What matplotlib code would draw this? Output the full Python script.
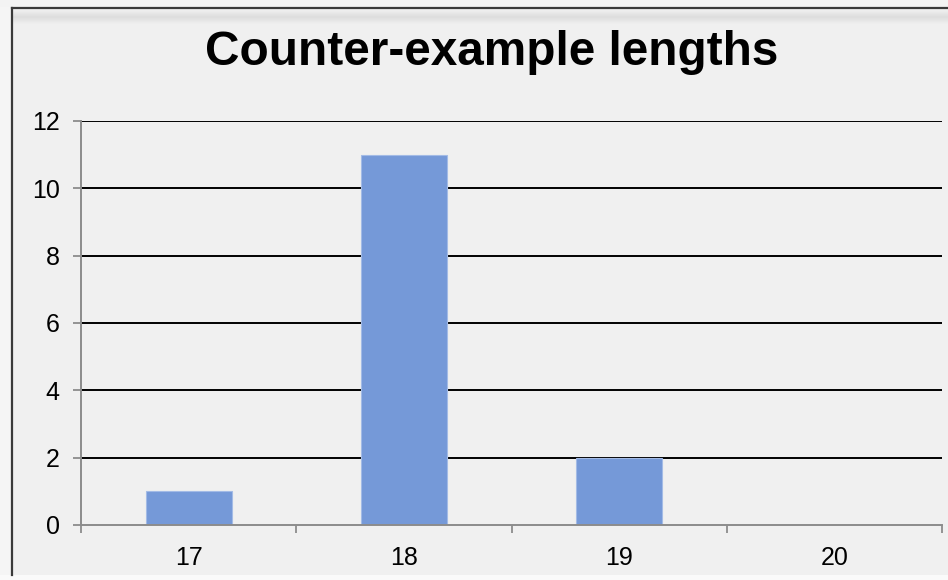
import matplotlib
matplotlib.use("Agg")
import matplotlib.pyplot as plt
from matplotlib.patches import Rectangle
from matplotlib.lines import Line2D
import numpy as np

plt.rcParams['font.family'] = ['Liberation Sans', 'DejaVu Sans']

# Counts of counter-examples by length
lengths = ["17", "18", "19", "20"]
counts = [1, 11, 2, 0]
y_ticks = [0, 2, 4, 6, 8, 10, 12]
title = "Counter-example lengths"

W, H = 948, 580
BG = "#F0F0F0"
fig = plt.figure(figsize=(W / 100, H / 100), dpi=100, facecolor=BG)

def fx(px):
    return px / W

def fy(py):
    return 1 - py / H

# area outside the chart frame
fig.patches.append(Rectangle((0, 0), 1, fy(574.5), transform=fig.transFigure,
                             facecolor="#FAFAFA", edgecolor="none", zorder=0))
fig.patches.append(Rectangle((0, fy(574.5)), fx(11), 1, transform=fig.transFigure,
                             facecolor="#F5F5F5", edgecolor="none", zorder=0))
fig.patches.append(Rectangle((0, fy(7)), 1, 1, transform=fig.transFigure,
                             facecolor="#F3F3F3", edgecolor="none", zorder=0))

# soft shadow under the top edge of the frame
grad = np.linspace(0, 1, 64).reshape(-1, 1)
shadow_ax = fig.add_axes([fx(13), fy(24), 1 - fx(13), fy(10) - fy(24)])
shadow_ax.imshow(grad, aspect="auto", cmap=matplotlib.colors.LinearSegmentedColormap.from_list(
    "sh", ["#F0F0F0", "#DDDDDD", "#F0F0F0"]), extent=(0, 1, 0, 1))
shadow_ax.set_axis_off()

# chart frame (left and top edges)
fig.lines.append(Line2D([fx(12), fx(12)], [fy(574.5), fy(8)], transform=fig.transFigure,
                        color="#3A3A3A", lw=1.6, solid_capstyle="projecting"))
fig.lines.append(Line2D([fx(12), 1], [fy(8), fy(8)], transform=fig.transFigure,
                        color="#3A3A3A", lw=1.6, solid_capstyle="projecting"))

# plot area
left, right, top, bottom = 81, 942, 121, 525
ax = fig.add_axes([fx(left), fy(bottom), fx(right - left), (bottom - top) / H])
ax.set_facecolor(BG)

x = np.arange(len(lengths))
ax.bar(x, counts, width=0.4, color="#7599D8", edgecolor="#A3BBE6", linewidth=0.8, zorder=3)

ax.set_xlim(-0.5, len(lengths) - 0.5)
ax.set_ylim(0, 12)
ax.set_yticks(y_ticks)
ax.set_yticklabels([str(v) for v in y_ticks])
ax.set_xticks(x)
ax.set_xticklabels(lengths)
ax.set_xticks(np.arange(len(lengths) + 1) - 0.5, minor=True)

for v in y_ticks[1:]:
    ax.axhline(v, color="black", lw=1.4, zorder=2)

for s in ["top", "right"]:
    ax.spines[s].set_visible(False)
for s in ["left", "bottom"]:
    ax.spines[s].set_color("#8C8C8C")
    ax.spines[s].set_linewidth(1.4)
    ax.spines[s].set_zorder(4)

ax.tick_params(axis="y", direction="out", length=5.8, width=1.3, color="#8C8C8C",
               labelsize=18, pad=9.5, labelcolor="black")
ax.tick_params(axis="x", which="major", length=0, labelsize=18, pad=15, labelcolor="black")
ax.tick_params(axis="x", which="minor", direction="out", length=5.5, width=1.3, color="#8C8C8C")

fig.text(fx(491.5), fy(65), title, ha="center", va="baseline",
         fontsize=34.4, fontweight="bold", color="black")

fig.savefig("out.png", dpi=100, facecolor=BG)
